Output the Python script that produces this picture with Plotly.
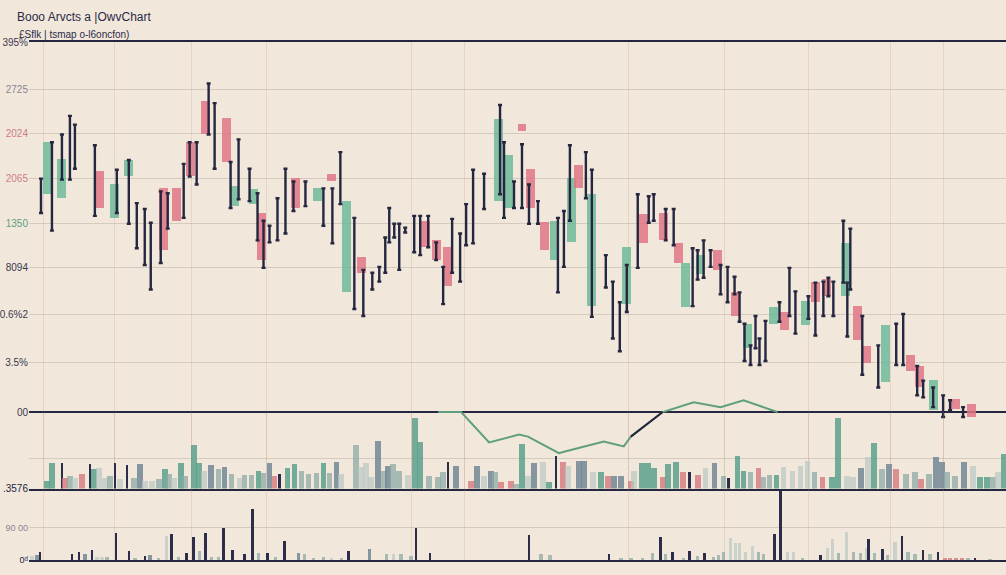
import plotly.graph_objects as go

# ---------------- data ----------------
# candle bodies: session index, open, close (price units)
body_x = [9.2, 12.0, 19.6, 22.6, 25.4, 32.4, 35.0, 37.8, 40.8, 45.0,
          46.6, 50.4, 52.0, 58.8, 63.2, 66.0, 69.0, 72.0, 84.8, 87.0,
          89.2, 99.4, 101.4, 104.2, 106.0, 108.8, 110.8, 114.2, 115.6, 118.2,
          125.2, 128.6, 132.6, 135.6, 137.0, 140.0, 143.4, 147.0, 149.4, 154.6,
          156.8, 161.0, 163.0, 165.2, 169.0, 171.4, 173.2, 177.0, 182.0, 183.8,
          186.6, 191.0, 194.2]
body_open = [22.2, 21.8, 24.5, 19.8, 24.0, 22.8, 22.8, 27.5, 31.7, 30.0,
             21.0, 21.2, 20.3, 23.8, 21.5, 24.2, 12.2, 15.8, 19.5, 17.5,
             16.8, 21.5, 20.8, 29.3, 24.8, 19.3, 15.5, 17.3, 25.2, 10.8,
             11.0, 20.2, 20.3, 17.2, 10.7, 14.0, 16.5, 12.2, 6.5, 9.0,
             10.2, 8.8, 13.2, 13.5, 11.8, 10.8, 6.7, 3.0, 5.8, 4.7,
             0.2, 1.3, 0.8]
body_close = [27.5, 25.8, 20.8, 23.2, 25.7, 16.5, 19.5, 24.0, 28.3, 25.5,
              23.0, 22.7, 15.5, 20.8, 22.8, 23.5, 21.5, 14.2, 16.8, 15.5,
              12.8, 29.8, 26.2, 28.6, 20.8, 16.5, 19.5, 23.8, 22.8, 22.2,
              16.8, 17.2, 17.5, 15.2, 15.2, 16.0, 14.5, 9.8, 9.0, 10.7,
              8.3, 11.3, 11.2, 11.8, 17.2, 7.3, 5.0, 8.8, 4.2, 2.5,
              3.2, 0.3, -0.5]

# high/low wicks
wick_x = [7.8, 10.0, 12.0, 13.6, 14.6, 18.6, 23.0, 25.4, 27.0, 28.6,
          29.8, 31.8, 33.2, 36.4, 37.6, 39.0, 41.4, 42.6, 45.8, 47.4,
          49.6, 51.2, 52.4, 53.6, 55.2, 56.8, 58.4, 60.8, 64.4, 66.2,
          67.8, 70.6, 72.4, 74.2, 75.6, 76.8, 77.6, 78.6, 79.6, 80.8,
          82.6, 83.8, 85.4, 87.0, 88.4, 90.2, 91.8, 93.0, 94.4, 96.6,
          99.8, 100.6, 102.6, 104.2, 105.6, 107.4, 111.4, 112.6, 113.8, 117.0,
          118.2, 121.0, 122.4, 123.8, 125.2, 127.4, 129.6, 130.6, 133.0, 134.6,
          138.4, 139.4, 140.6, 142.0, 144.0, 145.4, 146.8, 147.8, 148.8, 150.0,
          151.0, 151.8, 153.0, 155.8, 157.8, 159.0, 161.6, 163.0, 164.6, 165.6,
          166.6, 168.6, 169.4, 170.0, 172.4, 175.6, 179.2, 180.6, 183.4, 184.6,
          186.6, 188.6, 190.0, 192.6]
wick_high = [23.8, 27.5, 28.3, 30.2, 29.3, 27.2, 24.7, 25.7, 21.3, 20.7,
             19.3, 22.5, 22.3, 25.3, 27.5, 27.5, 33.5, 31.5, 25.5, 27.8,
             24.8, 22.3, 19.5, 19.0, 21.8, 24.8, 23.5, 23.5, 22.8, 22.8,
             26.5, 19.8, 14.5, 14.2, 14.8, 17.8, 20.8, 19.2, 19.2, 18.8,
             20.0, 20.0, 20.0, 17.3, 14.8, 19.7, 18.2, 21.2, 24.7, 24.3,
             31.3, 27.5, 23.5, 27.3, 23.2, 21.5, 19.8, 20.5, 27.2, 26.5,
             24.7, 16.0, 13.3, 11.2, 15.0, 22.2, 22.0, 22.2, 20.7, 20.7,
             16.7, 16.5, 17.5, 16.5, 15.0, 14.8, 13.8, 12.2, 9.0, 6.8,
             9.8, 7.5, 9.3, 11.2, 14.7, 12.3, 11.8, 13.2, 13.3, 13.7,
             13.3, 19.5, 13.2, 18.7, 9.8, 6.8, 9.0, 10.0, 4.7, 3.2,
             2.5, 1.7, 1.2, 0.5]
wick_low = [20.3, 18.5, 23.7, 23.7, 24.8, 20.0, 20.3, 19.2, 16.7, 15.0,
            12.5, 15.2, 18.7, 19.8, 24.0, 23.2, 28.3, 24.8, 20.8, 21.7,
            21.5, 17.5, 14.7, 17.3, 17.5, 18.2, 20.5, 21.0, 19.0, 17.2,
            21.2, 10.5, 9.8, 12.5, 13.3, 14.2, 17.3, 17.8, 14.5, 18.3,
            16.3, 16.0, 16.8, 15.5, 11.0, 14.2, 13.3, 17.0, 17.2, 20.7,
            22.2, 19.8, 20.8, 20.8, 19.2, 19.2, 12.2, 14.8, 19.5, 21.8,
            9.7, 12.7, 7.5, 6.2, 10.2, 14.7, 19.3, 19.5, 17.5, 17.0,
            10.8, 13.5, 13.7, 14.8, 12.0, 11.2, 12.0, 9.2, 5.2, 4.8,
            6.5, 4.8, 5.2, 9.2, 9.8, 8.0, 9.5, 7.8, 9.8, 11.8,
            9.8, 13.2, 7.7, 12.5, 3.8, 2.5, 4.8, 4.8, 1.7, 1.5,
            0.5, -0.5, 0.2, -0.5]

# oscillator line
ind_x = [87.4, 92.0, 97.6, 103.6, 105.4, 111.6, 113.0, 120.6, 124.6, 126.0,
         132.4, 138.6, 144.0, 148.6, 155.4]
ind_v = [0.0, 0.0, -3.1, -2.3, -2.5, -4.2, -4.0, -3.0, -3.5, -2.5,
         0.0, 1.0, 0.5, 1.2, 0.0]
ind_dark_x = [126.0, 132.4]
ind_dark_v = [-2.5, 0.0]

# volume panel 1
vol1_x = [9.0, 10.0, 12.0, 12.6, 13.6, 14.6, 16.0, 17.6, 18.4, 19.4,
          20.6, 21.6, 22.6, 23.6, 25.0, 26.4, 27.6, 28.6, 30.0, 31.4,
          32.6, 33.4, 34.4, 35.8, 36.6, 38.4, 39.4, 40.4, 41.8, 43.4,
          44.6, 46.0, 47.6, 48.6, 50.0, 51.4, 52.4, 53.6, 54.6, 55.6,
          57.2, 58.6, 60.0, 61.4, 63.0, 64.4, 65.6, 67.0, 68.0, 71.0,
          72.0, 73.0, 74.0, 75.4, 76.6, 77.4, 78.4, 79.6, 81.4, 82.8,
          83.8, 85.6, 87.4, 88.4, 89.4, 91.0, 94.0, 95.2, 96.6, 98.0,
          98.8, 100.0, 102.0, 103.0, 104.2, 105.4, 106.6, 108.4, 109.6, 111.0,
          112.4, 113.4, 115.6, 116.6, 118.4, 120.0, 121.4, 122.6, 124.0, 126.0,
          126.6, 128.2, 129.4, 130.6, 132.4, 133.4, 135.0, 136.4, 137.8, 139.4,
          141.0, 142.8, 144.6, 145.6, 147.4, 148.6, 150.0, 151.6, 152.6, 153.8,
          155.2, 156.6, 158.4, 160.0, 161.4, 162.8, 164.4, 166.4, 167.6, 169.4,
          170.6, 172.2, 173.6, 174.8, 176.4, 177.8, 179.2, 181.2, 183.0, 184.2,
          185.8, 187.2, 188.4, 189.4, 191.0, 192.8, 194.6, 196.0, 197.4, 198.6,
          199.6, 200.8]
vol1_v = [8, 26, 26, 11, 13, 11, 15, 25, 20, 21,
          11, 13, 26, 10, 24, 11, 25, 8, 8, 10,
          20, 15, 11, 26, 13, 44, 26, 18, 24, 20,
          22, 15, 11, 14, 14, 18, 16, 26, 13, 15,
          21, 25, 18, 15, 16, 26, 16, 27, 15, 44,
          22, 26, 12, 48, 18, 23, 25, 18, 14, 72,
          47, 13, 12, 17, 27, 23, 8, 23, 13, 18,
          17, 7, 8, 5, 45, 13, 26, 27, 7, 33,
          27, 23, 28, 28, 17, 17, 13, 13, 13, 8,
          18, 26, 26, 21, 12, 25, 27, 17, 17, 14,
          21, 26, 13, 11, 33, 18, 17, 21, 12, 14,
          14, 22, 18, 23, 28, 17, 12, 12, 72, 13,
          12, 21, 32, 46, 20, 25, 20, 15, 17, 10,
          15, 32, 27, 17, 13, 27, 23, 12, 12, 12,
          17, 35]
vol1_kind = ("ttnpglpntl" "lgnlngsllg" "tgltgttlsg" "sglggtgspn"
             "ttgggtgslg" "lllsgsgglt" "tgggnspsls" "gppgtlsltn"
             "plssltpssp" "ltttpttpnp" "lsgnttgpgg" "tllllgpttl"
             "lsltgspggp" "gssggslttg" "lt")

# volume panel 2
vol2_x = [6.0, 7.0, 7.6, 14.0, 15.4, 16.6, 18.0, 19.0, 20.0, 21.0,
          22.8, 25.4, 26.6, 28.6, 29.6, 31.4, 33.0, 34.0, 35.4, 37.0,
          38.4, 39.6, 40.8, 42.0, 43.4, 44.4, 46.2, 48.6, 50.2, 51.4,
          53.2, 54.8, 56.6, 59.4, 60.6, 62.4, 64.4, 66.0, 68.0, 69.4,
          73.6, 77.0, 78.4, 80.0, 82.0, 83.0, 85.8, 105.6, 108.0, 109.8,
          121.6, 124.0, 126.0, 128.4, 130.4, 132.0, 133.0, 134.4, 136.6, 137.8,
          139.4, 140.8, 142.6, 143.6, 144.6, 146.0, 147.0, 147.8, 149.0, 150.4,
          151.6, 152.6, 154.8, 156.0, 157.4, 158.6, 160.4, 164.0, 165.4, 166.4,
          167.6, 169.2, 170.6, 172.0, 173.2, 173.6, 174.8, 176.4, 177.4, 179.0,
          180.4, 181.6, 183.0, 184.6, 186.0, 187.6, 189.0, 190.0, 191.2, 192.4,
          193.6, 195.0, 198.0]
vol2_v = [5, 6, 9, 7, 9, 7, 11, 4, 4, 4,
          28, 10, 3, 5, 6, 3, 25, 27, 4, 8,
          24, 10, 28, 4, 4, 33, 11, 7, 53, 8,
          8, 4, 20, 8, 7, 3, 4, 3, 3, 10,
          12, 7, 7, 7, 5, 33, 8, 26, 7, 6,
          7, 3, 3, 3, 8, 24, 7, 9, 3, 10,
          5, 8, 4, 6, 9, 23, 18, 18, 9, 15,
          9, 7, 27, 71, 9, 9, 3, 6, 13, 22,
          8, 29, 9, 8, 13, 22, 8, 12, 6, 19,
          25, 9, 7, 11, 7, 9, 3, 3, 3, 3,
          3, 3, 2]
vol2_kind = ("lsnnnsnllg" "nngnsglngn" "ngnggnnnng" "ngnsggglgn" "sglggnnngg"
             "nggggngngn" "gnggglllll" "ggnnllgnll" "glgglngngl" "nggngnpppp" "gng")

price_tickvals = [0, 5.1, 9.9, 14.7, 19.2, 23.8, 28.4, 32.9, 37.68]
price_ticktext = ["00", "3.5%", "0.6%2", "8094",
                  '<span style="color:#5e9e80">1350</span>',
                  '<span style="color:#cf7b86">2065</span>',
                  '<span style="color:#cf7b86">2024</span>',
                  '<span style="color:#8a8596">2725</span>', "395%"]
vol1_tickvals = [0, 31]
vol1_ticktext = [".3576", ""]
vol2_tickvals = [0, 33]
vol2_ticktext = ["0ᵈ", '<span style="color:#8a8596">90 00</span>']
grid_x = [8.4, 22.6, 38.0, 53.0, 82.0, 92.6, 125.6, 144.8, 161.6, 178.0, 188.6]

title_text = "Booo Arvcts a |OwvChart"
subtitle_text = "£Sflk | tsmap o-l6oncfon)"

# ---------------- style ----------------
NAVY = "#25263f"
BG = "#f1e8db"
PINK = "rgba(224,118,134,0.85)"
GREEN = "rgba(104,182,150,0.80)"
GRID = "rgba(140,125,115,0.28)"
VGRID = "rgba(190,145,125,0.22)"
kind_color = {
    "t": "rgba(92,160,140,0.85)",
    "g": "rgba(140,170,165,0.75)",
    "l": "rgba(185,200,195,0.70)",
    "p": "rgba(214,120,125,0.80)",
    "n": "#2b2d4a",
    "s": "rgba(115,135,150,0.85)",
}
kind_width = {"n": 0.5}

def pad_kinds(s, n):
    s = "".join(ch for ch in s if ch in kind_color)
    return (s + "g" * n)[:n]

k1 = pad_kinds(vol1_kind, len(vol1_x))
k2 = pad_kinds(vol2_kind, len(vol2_x))

fig = go.Figure()

body_col = [GREEN if c >= o else PINK for o, c in zip(body_open, body_close)]
fig.add_trace(go.Bar(
    x=body_x, base=[min(o, c) for o, c in zip(body_open, body_close)],
    y=[abs(c - o) for o, c in zip(body_open, body_close)],
    width=1.8, marker=dict(color=body_col, line=dict(width=0)),
    xaxis="x", yaxis="y", showlegend=False))

fig.add_trace(go.Scatter(
    x=ind_x, y=ind_v, mode="lines", line=dict(color="#5f9f7c", width=2),
    xaxis="x", yaxis="y", showlegend=False))
fig.add_trace(go.Scatter(
    x=ind_dark_x, y=ind_dark_v, mode="lines", line=dict(color=NAVY, width=2),
    xaxis="x", yaxis="y", showlegend=False))

fig.add_trace(go.Scatter(
    x=wick_x, y=wick_low, mode="markers",
    marker=dict(size=1, color="rgba(0,0,0,0)"),
    error_y=dict(type="data", symmetric=False,
                 array=[h - l for h, l in zip(wick_high, wick_low)],
                 arrayminus=[0] * len(wick_x),
                 width=2, thickness=2.4, color=NAVY),
    xaxis="x", yaxis="y", showlegend=False))

fig.add_trace(go.Bar(
    x=vol1_x, y=vol1_v,
    width=[kind_width.get(k, 1.15) for k in k1],
    marker=dict(color=[kind_color[k] for k in k1], line=dict(width=0)),
    xaxis="x", yaxis="y2", showlegend=False))

fig.add_trace(go.Bar(
    x=vol2_x, y=vol2_v,
    width=[kind_width.get(k, 0.7) for k in k2],
    marker=dict(color=[kind_color[k] for k in k2], line=dict(width=0)),
    xaxis="x2", yaxis="y3", showlegend=False))

H = 575.0
def dom(py_bottom, py_top):
    return [1 - py_bottom / H, 1 - py_top / H]

axis_font = dict(family="Liberation Sans, Arial, sans-serif", size=10, color="#3a3852")

fig.update_layout(
    width=1006, height=575,
    margin=dict(l=27, r=0, t=0, b=0),
    paper_bgcolor=BG, plot_bgcolor="rgba(0,0,0,0)",
    barmode="overlay", bargap=0, hovermode=False,
    showlegend=False,
    xaxis=dict(domain=[0, 1], range=[5.4, 201.2], anchor="y",
               showline=True, mirror=True, linecolor=NAVY, linewidth=2,
               showgrid=True, gridcolor=VGRID, gridwidth=1,
               tickmode="array", tickvals=grid_x, showticklabels=False,
               ticks="", zeroline=False),
    xaxis2=dict(domain=[0, 1], matches="x", anchor="y3",
                showline=True, linecolor=NAVY, linewidth=2,
                showgrid=True, gridcolor=VGRID, gridwidth=1,
                tickmode="array", tickvals=grid_x, showticklabels=False,
                ticks="", zeroline=False),
    yaxis=dict(domain=dom(493, 38), range=[-7.8, 37.7], anchor="x",
               tickmode="array", tickvals=price_tickvals, ticktext=price_ticktext,
               tickfont=axis_font, showgrid=True, gridcolor=GRID, gridwidth=1,
               zeroline=True, zerolinecolor=NAVY, zerolinewidth=2,
               showline=False, ticks=""),
    yaxis2=dict(domain=dom(493, 415), range=[0, 78], anchor="x",
                tickmode="array", tickvals=vol1_tickvals, ticktext=vol1_ticktext,
                tickfont=dict(family="Liberation Sans, Arial, sans-serif", size=10, color=NAVY),
                showgrid=True, gridcolor=GRID, zeroline=False, ticks=""),
    yaxis3=dict(domain=dom(566, 493), range=[0, 73], anchor="x2",
                tickmode="array", tickvals=vol2_tickvals, ticktext=vol2_ticktext,
                tickfont=dict(family="Liberation Sans, Arial, sans-serif", size=9, color=NAVY),
                showgrid=True, gridcolor=GRID, zeroline=False, ticks=""),
    annotations=[
        dict(text=title_text, xref="paper", yref="paper",
             x=(13 - 27) / 979, y=1 - 12 / H, xanchor="left", yanchor="middle",
             showarrow=False,
             font=dict(family="Liberation Sans, Arial, sans-serif", size=12, color="#2a2a48")),
        dict(text=subtitle_text, xref="paper", yref="paper",
             x=(15 - 27) / 979, y=1 - 30 / H, xanchor="left", yanchor="middle",
             showarrow=False,
             font=dict(family="Liberation Sans Narrow, Liberation Sans, Arial, sans-serif",
                       size=10, color="#2a2a48")),
    ],
)

fig.write_html("out.html")
